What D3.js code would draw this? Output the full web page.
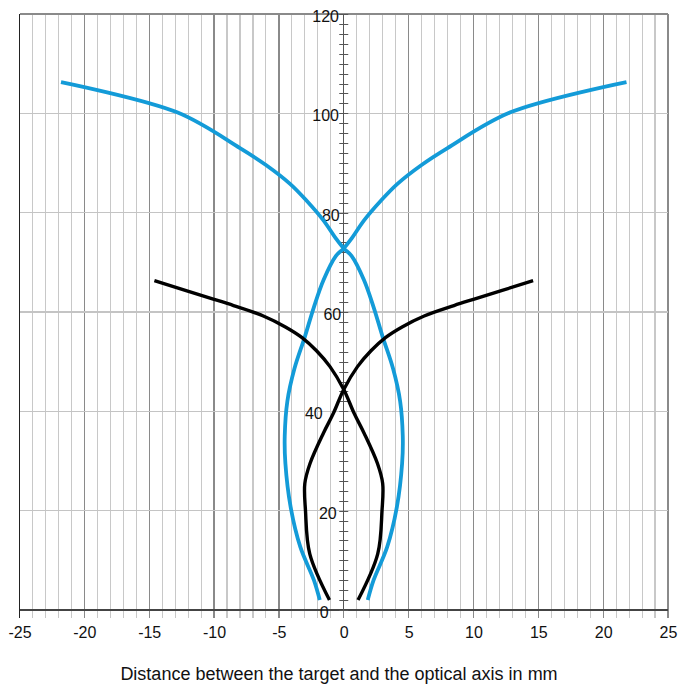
<!DOCTYPE html>
<html>
<head>
<meta charset="utf-8">
<script src="https://cdn.jsdelivr.net/npm/d3@7"></script>
<style>
html,body{margin:0;padding:0;background:#fff;}
svg{display:block;font-family:"Liberation Sans",Arial,Helvetica,sans-serif;}
</style>
</head>
<body>
<svg id="chart" width="686" height="686"></svg>
<script>
// ---- data ----
const xTickLabels = [-25, -20, -15, -10, -5, 0, 5, 10, 15, 20, 25];
const yTickLabels = [0, 20, 40, 60, 80, 100, 120];
const xAxisTitle = "Distance between the target and the optical axis in mm";

// blue curve, starting at bottom right; its mirror is drawn too
const blueX = [1.85, 2.3, 3.35, 4.1, 4.5, 4.55, 4.35, 3.8, 3.0, 2.3, 1.55, 0.6, 0, -0.55, -1.58, -2.86, -4.14, -6.0, -8.0, -12.85, -21.8];
const blueY = [2, 6, 12.7, 20.8, 29.5, 35, 42, 48.6, 55, 61, 66.5, 71.3, 72.8, 74.6, 78.5, 82.4, 85.8, 89.6, 93.0, 100.2, 106.3];

// black curve, starting at bottom right; its mirror is drawn too
const blackX = [1.1, 2.62, 2.95, 3.0, 2.6, 1.57, 0.8, 0, -1.06, -2.1, -3.24, -4.5, -6.2, -8.5, -10.06, -14.6];
const blackY = [2, 11.3, 20, 25.5, 29.5, 35.6, 39.6, 44.4, 49, 52.2, 54.9, 57.0, 59.2, 61.3, 62.6, 66.3];

// ---- layout ----
const svg = d3.select("#chart");
const x = d3.scaleLinear().domain([-25, 25]).range([19.5, 668]);
const y = d3.scaleLinear().domain([0, 120]).range([610, 14]);
const x0 = x(0);

// vertical grid (every 1 mm), extending below axis as ticks
svg.append("g").selectAll("line").data(d3.range(-25, 26))
  .join("line")
  .attr("x1", d => x(d)).attr("x2", d => x(d))
  .attr("y1", y(120)).attr("y2", y(0) + 8)
  .attr("stroke", d => d === -25 ? "#222" : (d % 5 === 0 ? "#8a8a8a" : "#c8c8c8"))
  .attr("stroke-width", d => d % 5 === 0 ? 1.3 : 1.1)
  .style("shape-rendering", "crispEdges");

// horizontal grid
svg.append("g").selectAll("line").data(d3.range(20, 121, 20))
  .join("line")
  .attr("x1", x(-25)).attr("x2", x(25))
  .attr("y1", d => y(d)).attr("y2", d => y(d))
  .attr("stroke", d => d === 120 ? "#8a8a8a" : "#c4c4c4")
  .attr("stroke-width", 1.3)
  .style("shape-rendering", "crispEdges");

// bottom axis line
svg.append("line")
  .attr("x1", x(-25)).attr("x2", x(25))
  .attr("y1", y(0)).attr("y2", y(0))
  .attr("stroke", "#444").attr("stroke-width", 1.3)
  .style("shape-rendering", "crispEdges");

// x axis labels
const xAxis = d3.axisBottom(x).tickValues(xTickLabels).tickSize(0).tickPadding(17)
  .tickFormat(d => String(d));
const gx = svg.append("g").attr("transform", `translate(0,${y(0)})`).call(xAxis);
gx.select(".domain").remove();
gx.selectAll("text").attr("font-size", 16).attr("fill", "#111")
  .attr("font-family", "Liberation Sans, Arial, sans-serif");

// y axis (central)
svg.append("line")
  .attr("x1", x0).attr("x2", x0).attr("y1", y(0)).attr("y2", y(120))
  .attr("stroke", "#555").attr("stroke-width", 1.2)
  .style("shape-rendering", "crispEdges");
svg.append("g").selectAll("line").data(d3.range(0, 121, 2))
  .join("line")
  .attr("x1", x0 - 4.5).attr("x2", x0 + 4.5)
  .attr("y1", d => Math.round(y(d)) + 0.5).attr("y2", d => Math.round(y(d)) + 0.5)
  .attr("stroke", "#555").attr("stroke-width", 1);

const yLabelGap = {0: 15, 20: 7, 40: 21, 60: 2.5, 80: 4, 100: 4.8, 120: 4.8};
svg.append("g").selectAll("text").data(yTickLabels)
  .join("text")
  .attr("x", d => x0 - yLabelGap[d])
  .attr("y", d => y(d) + 8)
  .attr("text-anchor", "end")
  .attr("font-size", 16)
  .attr("fill", "#111")
  .text(d => d);

// curves
const line = d3.line().x(d => x(d[0])).y(d => y(d[1])).curve(d3.curveCatmullRom.alpha(0.5));
const bluePts = blueX.map((v, i) => [v, blueY[i]]);
const blackPts = blackX.map((v, i) => [v, blackY[i]]);
const mirror = pts => pts.map(p => [-p[0], p[1]]);

[[bluePts, "#139bd8", 3.8], [mirror(bluePts), "#139bd8", 3.8],
 [blackPts, "#000", 3.4], [mirror(blackPts), "#000", 3.4]].forEach(([pts, col, w]) => {
  svg.append("path").datum(pts)
    .attr("d", line)
    .attr("fill", "none")
    .attr("stroke", col)
    .attr("stroke-width", w)
    .attr("stroke-linejoin", "round");
});

// x axis title
svg.append("text")
  .attr("x", 339).attr("y", 680)
  .attr("text-anchor", "middle")
  .attr("font-size", 18)
  .attr("fill", "#111")
  .text(xAxisTitle);
</script>
</body>
</html>
